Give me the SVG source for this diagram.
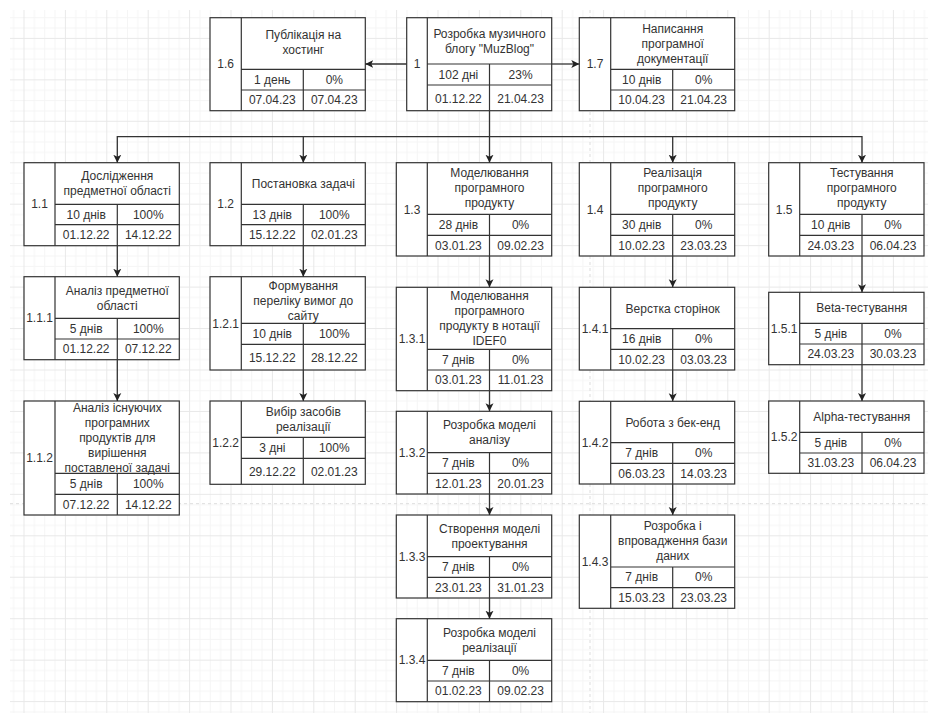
<svg xmlns="http://www.w3.org/2000/svg" width="928" height="713" viewBox="0 0 928 713">
<style>
.b{fill:none;stroke:#333;stroke-width:1.2}
.f{fill:#fff;stroke:#333;stroke-width:1.2}
.c{fill:none;stroke:#333;stroke-width:1.3}
.a{marker-end:url(#arrow)}
text{font-family:"Liberation Sans",Arial,sans-serif;font-size:12px;fill:#333;text-anchor:middle}
.pb{fill:none;stroke:#ddd;stroke-width:1;stroke-dasharray:3 3}
</style>
<defs>
<pattern id="grid" patternUnits="userSpaceOnUse" x="23.5" y="37.9" width="41.4" height="41.45">
<path d="M10.85 0V41.45M21.2 0V41.45M31.55 0V41.45M0 10.86H41.4M0 21.21H41.4M0 31.57H41.4" fill="none" stroke="#f5f5f5" stroke-width="1"/>
<path d="M.5 0V41.45M0 .5H41.4" fill="none" stroke="#e8e8e8" stroke-width="1"/>
</pattern>
<marker id="arrow" markerUnits="userSpaceOnUse" markerWidth="9" markerHeight="9" refX="8" refY="4.5" orient="auto">
<path d="M0 .5L8 4.5L0 8.5L2 4.5Z" fill="#222"/>
</marker>
</defs>
<rect width="928" height="713" fill="#fff"/>
<rect x="10" y="10" width="918" height="703" fill="url(#grid)"/>
<path class="pb" d="M10 503.7H928M590 10V713"/>
<g id="n1"><rect class="f" x="406.7" y="17.7" width="145" height="93"/><path class="b" d="M427.3 17.7V110.7M427.3 64H551.7M427.3 85H551.7M489.5 64V110.7"/>
<text x="417" y="68.3">1</text><text x="489.5" y="38.3">Розробка музичного</text><text x="489.5" y="53.3">блогу "MuzBlog"</text><text x="458.4" y="79">102 дні</text><text x="520.6" y="79">23%</text><text x="458.4" y="103">01.12.22</text><text x="520.6" y="103">21.04.23</text></g>
<g id="n1-6"><rect class="f" x="210" y="17.7" width="155.3" height="93"/><path class="b" d="M241.3 17.7V110.7M241.3 69.3H365.3M241.3 90H365.3M303.3 69.3V110.7"/>
<text x="225.6" y="68">1.6</text><text x="303.3" y="39">Публікація на</text><text x="303.3" y="54">хостинг</text><text x="272.3" y="83.5">1 день</text><text x="334.3" y="83.5">0%</text><text x="272.3" y="104.2">07.04.23</text><text x="334.3" y="104.2">07.04.23</text></g>
<g id="n1-7"><rect class="f" x="579.3" y="17.7" width="155.4" height="93"/><path class="b" d="M610.7 17.7V110.7M610.7 69.3H734.7M610.7 90H734.7M672.7 69.3V110.7"/>
<text x="595" y="68">1.7</text><text x="672.7" y="33">Написання</text><text x="672.7" y="48">програмної</text><text x="672.7" y="63">документації</text><text x="641.7" y="83.5">10 днів</text><text x="703.7" y="83.5">0%</text><text x="641.7" y="104.2">10.04.23</text><text x="703.7" y="104.2">21.04.23</text></g>
<g id="n1-1"><rect class="f" x="24" y="162.7" width="155.3" height="83"/><path class="b" d="M55 162.7V245.7M55 204.3H179.3M55 224.7H179.3M117.3 204.3V245.7"/>
<text x="39.5" y="208.2">1.1</text><text x="117.3" y="180">Дослідження</text><text x="117.3" y="195">предметної області</text><text x="86.2" y="218.5">10 днів</text><text x="148.3" y="218.5">100%</text><text x="86.2" y="239.2">01.12.22</text><text x="148.3" y="239.2">14.12.22</text></g>
<g id="n1-1-1"><rect class="f" x="24" y="276.7" width="155.3" height="83"/><path class="b" d="M55 276.7V359.7M55 318.3H179.3M55 339H179.3M117.3 318.3V359.7"/>
<text x="39.5" y="322">1.1.1</text><text x="117.3" y="294.5">Аналіз предметної</text><text x="117.3" y="309.5">області</text><text x="86.2" y="332.6">5 днів</text><text x="148.3" y="332.6">100%</text><text x="86.2" y="353.3">01.12.22</text><text x="148.3" y="353.3">07.12.22</text></g>
<g id="n1-1-2"><rect class="f" x="24" y="401" width="155.3" height="114"/><path class="b" d="M55 401V515M55 473.3H179.3M55 494.3H179.3M117.3 473.3V515"/>
<text x="39.5" y="462">1.1.2</text><text x="117.3" y="411.5">Аналіз існуючих</text><text x="117.3" y="426.5">програмних</text><text x="117.3" y="441.5">продуктів для</text><text x="117.3" y="456.5">вирішення</text><text x="117.3" y="471.5">поставленої задачі</text><text x="86.2" y="487.8">5 днів</text><text x="148.3" y="487.8">100%</text><text x="86.2" y="508.6">07.12.22</text><text x="148.3" y="508.6">14.12.22</text></g>
<g id="n1-2"><rect class="f" x="210" y="162.7" width="155.3" height="83"/><path class="b" d="M241.3 162.7V245.7M241.3 204.3H365.3M241.3 224.7H365.3M303.3 204.3V245.7"/>
<text x="225.6" y="208.2">1.2</text><text x="303.3" y="187.5">Постановка задачі</text><text x="272.3" y="218.5">13 днів</text><text x="334.3" y="218.5">100%</text><text x="272.3" y="239.2">15.12.22</text><text x="334.3" y="239.2">02.01.23</text></g>
<g id="n1-2-1"><rect class="f" x="210" y="276.7" width="155.3" height="93.3"/><path class="b" d="M241.3 276.7V370M241.3 323.3H365.3M241.3 344.3H365.3M303.3 323.3V370"/>
<text x="225.6" y="327.5">1.2.1</text><text x="303.3" y="290">Формування</text><text x="303.3" y="305">переліку вимог до</text><text x="303.3" y="320">сайту</text><text x="272.3" y="337.8">10 днів</text><text x="334.3" y="337.8">100%</text><text x="272.3" y="361.5">15.12.22</text><text x="334.3" y="361.5">28.12.22</text></g>
<g id="n1-2-2"><rect class="f" x="210" y="401" width="155.3" height="83.3"/><path class="b" d="M241.3 401V484.3M241.3 437.3H365.3M241.3 458.3H365.3M303.3 437.3V484.3"/>
<text x="225.6" y="446.7">1.2.2</text><text x="303.3" y="416">Вибір засобів</text><text x="303.3" y="431">реалізації</text><text x="272.3" y="451.8">3 дні</text><text x="334.3" y="451.8">100%</text><text x="272.3" y="475.5">29.12.22</text><text x="334.3" y="475.5">02.01.23</text></g>
<g id="n1-3"><rect class="f" x="396.3" y="162.7" width="155.4" height="93.3"/><path class="b" d="M427.3 162.7V256M427.3 214.3H551.7M427.3 235.3H551.7M489.5 214.3V256"/>
<text x="412" y="213.5">1.3</text><text x="489.5" y="177">Моделювання</text><text x="489.5" y="192">програмного</text><text x="489.5" y="207">продукту</text><text x="458.4" y="228.6">28 днів</text><text x="520.6" y="228.6">0%</text><text x="458.4" y="249.5">03.01.23</text><text x="520.6" y="249.5">09.02.23</text></g>
<g id="n1-3-1"><rect class="f" x="396.3" y="287.3" width="155.4" height="103.4"/><path class="b" d="M427.3 287.3V390.7M427.3 349.3H551.7M427.3 370H551.7M489.5 349.3V390.7"/>
<text x="412" y="343">1.3.1</text><text x="489.5" y="300">Моделювання</text><text x="489.5" y="315">програмного</text><text x="489.5" y="330">продукту в нотації</text><text x="489.5" y="345">IDEF0</text><text x="458.4" y="363.5">7 днів</text><text x="520.6" y="363.5">0%</text><text x="458.4" y="384.2">03.01.23</text><text x="520.6" y="384.2">11.01.23</text></g>
<g id="n1-3-2"><rect class="f" x="396.3" y="411.3" width="155.4" height="82.7"/><path class="b" d="M427.3 411.3V494M427.3 452.7H551.7M427.3 473.3H551.7M489.5 452.7V494"/>
<text x="412" y="456.7">1.3.2</text><text x="489.5" y="429">Розробка моделі</text><text x="489.5" y="444">аналізу</text><text x="458.4" y="467">7 днів</text><text x="520.6" y="467">0%</text><text x="458.4" y="487.5">12.01.23</text><text x="520.6" y="487.5">20.01.23</text></g>
<g id="n1-3-3"><rect class="f" x="396.3" y="515" width="155.4" height="83"/><path class="b" d="M427.3 515V598M427.3 556.7H551.7M427.3 577.3H551.7M489.5 556.7V598"/>
<text x="412" y="560.5">1.3.3</text><text x="489.5" y="532.9">Створення моделі</text><text x="489.5" y="547.9">проектування</text><text x="458.4" y="571">7 днів</text><text x="520.6" y="571">0%</text><text x="458.4" y="591.5">23.01.23</text><text x="520.6" y="591.5">31.01.23</text></g>
<g id="n1-3-4"><rect class="f" x="396.3" y="618.7" width="155.4" height="83"/><path class="b" d="M427.3 618.7V701.7M427.3 660.3H551.7M427.3 681H551.7M489.5 660.3V701.7"/>
<text x="412" y="664">1.3.4</text><text x="489.5" y="636.5">Розробка моделі</text><text x="489.5" y="651.5">реалізації</text><text x="458.4" y="674.5">7 днів</text><text x="520.6" y="674.5">0%</text><text x="458.4" y="695.2">01.02.23</text><text x="520.6" y="695.2">09.02.23</text></g>
<g id="n1-4"><rect class="f" x="579.3" y="162.7" width="155.4" height="93.3"/><path class="b" d="M610.7 162.7V256M610.7 214.3H734.7M610.7 235.3H734.7M672.7 214.3V256"/>
<text x="595" y="213.5">1.4</text><text x="672.7" y="177">Реалізація</text><text x="672.7" y="192">програмного</text><text x="672.7" y="207">продукту</text><text x="641.7" y="228.6">30 днів</text><text x="703.7" y="228.6">0%</text><text x="641.7" y="249.5">10.02.23</text><text x="703.7" y="249.5">23.03.23</text></g>
<g id="n1-4-1"><rect class="f" x="579.3" y="287.3" width="155.4" height="82.7"/><path class="b" d="M610.7 287.3V370M610.7 328.7H734.7M610.7 349.3H734.7M672.7 328.7V370"/>
<text x="595" y="332.7">1.4.1</text><text x="672.7" y="312.5">Верстка сторінок</text><text x="641.7" y="342.8">16 днів</text><text x="703.7" y="342.8">0%</text><text x="641.7" y="363.5">10.02.23</text><text x="703.7" y="363.5">03.03.23</text></g>
<g id="n1-4-2"><rect class="f" x="579.3" y="401.3" width="155.4" height="82.7"/><path class="b" d="M610.7 401.3V484M610.7 442.7H734.7M610.7 463.3H734.7M672.7 442.7V484"/>
<text x="595" y="446.7">1.4.2</text><text x="672.7" y="426.5">Робота з бек-енд</text><text x="641.7" y="456.8">7 днів</text><text x="703.7" y="456.8">0%</text><text x="641.7" y="477.5">06.03.23</text><text x="703.7" y="477.5">14.03.23</text></g>
<g id="n1-4-3"><rect class="f" x="579.3" y="515" width="155.4" height="93.3"/><path class="b" d="M610.7 515V608.3M610.7 567H734.7M610.7 587.7H734.7M672.7 567V608.3"/>
<text x="595" y="565.7">1.4.3</text><text x="672.7" y="530">Розробка і</text><text x="672.7" y="545">впровадження бази</text><text x="672.7" y="560">даних</text><text x="641.7" y="581">7 днів</text><text x="703.7" y="581">0%</text><text x="641.7" y="601.8">15.03.23</text><text x="703.7" y="601.8">23.03.23</text></g>
<g id="n1-5"><rect class="f" x="768.7" y="162.7" width="155.3" height="93.3"/><path class="b" d="M799.7 162.7V256M799.7 214.3H924M799.7 235.3H924M862 214.3V256"/>
<text x="784.2" y="213.5">1.5</text><text x="861.8" y="177">Тестування</text><text x="861.8" y="192">програмного</text><text x="861.8" y="207">продукту</text><text x="830.8" y="228.6">10 днів</text><text x="893" y="228.6">0%</text><text x="830.8" y="249.5">24.03.23</text><text x="893" y="249.5">06.04.23</text></g>
<g id="n1-5-1"><rect class="f" x="768.7" y="292.3" width="155.3" height="72.4"/><path class="b" d="M799.7 292.3V364.7M799.7 323.3H924M799.7 344H924M862 323.3V364.7"/>
<text x="784.2" y="332.5">1.5.1</text><text x="861.8" y="312.3">Beta-тестування</text><text x="830.8" y="337.5">5 днів</text><text x="893" y="337.5">0%</text><text x="830.8" y="358.2">24.03.23</text><text x="893" y="358.2">30.03.23</text></g>
<g id="n1-5-2"><rect class="f" x="768.7" y="401" width="155.3" height="72.3"/><path class="b" d="M799.7 401V473.3M799.7 432.3H924M799.7 453H924M862 432.3V473.3"/>
<text x="784.2" y="441">1.5.2</text><text x="861.8" y="421">Alpha-тестування</text><text x="830.8" y="446.5">5 днів</text><text x="893" y="446.5">0%</text><text x="830.8" y="467">31.03.23</text><text x="893" y="467">06.04.23</text></g>
<g id="connectors">
<path class="c a" d="M406.7 64H365.3"/>
<path class="c a" d="M551.7 64H579.3"/>
<path class="c a" d="M489.5 110.7V162.7"/>
<path class="c a" d="M489.5 136.7H117.3V162.7"/>
<path class="c a" d="M303.3 136.7V162.7"/>
<path class="c a" d="M489.5 136.7H672.7V162.7"/>
<path class="c a" d="M672.7 136.7H862V162.7"/>
<path class="c a" d="M117.3 245.7V276.7"/>
<path class="c a" d="M117.3 359.7V401"/>
<path class="c a" d="M303.3 245.7V276.7"/>
<path class="c a" d="M303.3 370V401"/>
<path class="c a" d="M489.5 256V287.3"/>
<path class="c a" d="M489.5 390.7V411.3"/>
<path class="c a" d="M489.5 494V515"/>
<path class="c a" d="M489.5 598V618.7"/>
<path class="c a" d="M672.7 256V287.3"/>
<path class="c a" d="M672.7 370V401.3"/>
<path class="c a" d="M672.7 484V515"/>
<path class="c a" d="M862 256V292.3"/>
<path class="c a" d="M862 364.7V401"/>
</g>
</svg>
